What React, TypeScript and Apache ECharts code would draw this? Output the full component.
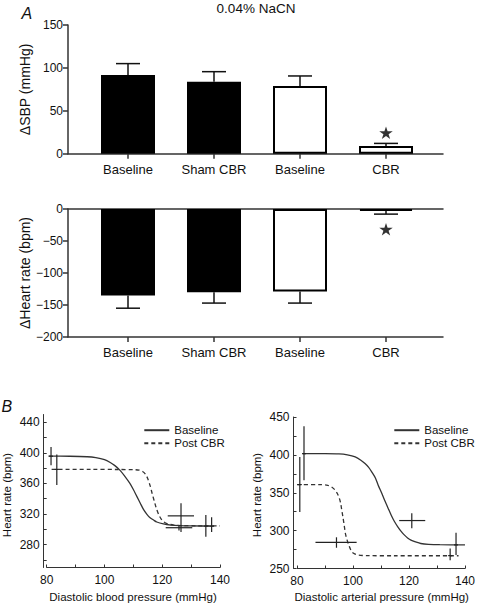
import React, { useEffect, useRef } from 'react';
import * as echarts from 'echarts';

// ---------- Panel A data ----------
const categories = ['Baseline', 'Sham CBR', 'Baseline', 'CBR'];
const groups = ['sham', 'sham', 'cbr', 'cbr'];
const sbpValues = [91.7, 83.9, 78.9, 9];
const sbpErrors = [105, 95.6, 90.6, 12];
const hrValues = [-135, -130, -129, -3];
const hrErrors = [-155, -147, -147, -8];
const sbpStars = [[3, 24.5]];
const hrStars = [[3, -31.7]];

// ---------- Panel B data ----------
const leftBaselineCurve = [
  [80.6, 395.5], [88, 395.4], [94, 394.8], [97, 393.6], [100, 391], [102, 387.3], [103.5, 383.5],
  [105.4, 377], [107, 369.5], [108.8, 360], [110, 352], [111.2, 343], [112.4, 334], [113.5, 326],
  [114.7, 319.5], [115.8, 315], [117, 312], [118.1, 309.5], [120.4, 307], [123, 305.5],
  [126, 304.7], [130, 304.3], [138, 304.2],
];
const leftPostCurve = [
  [81.7, 378.2], [95, 378.2], [105, 378.1], [110, 377.9], [112, 377.3], [113.2, 375.5],
  [114.2, 372], [115, 366], [115.8, 357], [116.5, 347], [117.3, 336], [118, 327], [118.8, 319],
  [119.6, 313.5], [120.6, 309.5], [122, 307], [124, 305.5], [127, 304.8], [132, 304.5], [140, 304.5],
];
const leftPoints = [
  // [x, y, xLow, xHigh, yLow, yHigh]
  [81.5, 395.5, 81.5, 81.5, 383.8, 407.6],
  [83.5, 378.2, 83.5, 83.5, 357.8, 397.6],
  [126.5, 317.5, 121.9, 131, 296.5, 334],
  [125.8, 302, 121.2, 130.4, 298.5, 305],
  [135.1, 304.2, 135.1, 135.1, 290.3, 318.5],
  [137.1, 304.2, 137.1, 137.1, 296.4, 315.6],
];
const rightBaselineCurve = [
  [82.1, 401.6], [90, 401.6], [95, 401.3], [98, 400], [100.8, 397.3], [102.8, 393], [104.3, 388.5],
  [105.6, 383.5], [106.7, 377.5], [108, 369.5], [109, 360], [110.2, 350], [111.3, 340],
  [112.5, 330], [113.7, 320], [114.8, 312], [116, 305], [117.2, 299], [118.4, 294], [119.5, 290.3],
  [120.7, 287.4], [122.4, 285], [124.2, 283], [127, 281.9], [131, 281.4], [140, 281.2],
];
const rightPostCurve = [
  [80, 360.8], [88, 360.7], [91, 359.8], [92.6, 357], [93.6, 353.5], [94.4, 349], [95.1, 343],
  [95.6, 336], [96, 327], [96.4, 318], [96.9, 306], [97.3, 296], [97.9, 287.5], [98.5, 281],
  [99.1, 275.5], [99.6, 272], [100.6, 269.3], [102, 267.6], [105, 267], [115, 266.8], [137.7, 266.8],
];
const rightPoints = [
  [82.5, 401.6, 82.5, 82.5, 366.5, 437.7],
  [81, 360.8, 81, 81, 324.7, 397.3],
  [121, 313.3, 116.5, 125.8, 303, 323],
  [94.1, 284.6, 86.6, 101.3, 277.4, 291.2],
  [134.7, 267, 134.7, 134.7, 260.9, 276.4],
  [136.8, 281.2, 136.8, 136.8, 267.7, 297.3],
];
const bXTicks = [80, 90, 100, 110, 120, 130, 140];
const bXLabels = [80, 100, 120, 140];
const leftYTicks = [260, 280, 300, 320, 340, 360, 380, 400, 420, 440];
const leftYLabels = [280, 320, 360, 400, 440];
const rightYTicks = [250, 275, 300, 325, 350, 375, 400, 425, 450];
const rightYLabels = [250, 300, 350, 400, 450];

const FONT = '"Liberation Sans", Arial, Helvetica, sans-serif';
const TEXT = '#111';
const AXIS = '#333';

const STAR =
  'path://M50 0 L61.2 34.5 L97.6 34.5 L68.2 55.9 L79.4 90.5 L50 69.1 L20.6 90.5 L31.8 55.9 L2.4 34.5 L38.8 34.5 Z';

function barErrorRender(params: any, api: any) {
  const x = api.value(0);
  const p0 = api.coord([x, api.value(1)]);
  const p1 = api.coord([x, api.value(2)]);
  const hw = 12;
  const style = { stroke: '#111', lineWidth: 1.5 };
  return {
    type: 'group',
    children: [
      { type: 'line', shape: { x1: p0[0], y1: p0[1], x2: p1[0], y2: p1[1] }, style },
      { type: 'line', shape: { x1: p1[0] - hw, y1: p1[1], x2: p1[0] + hw, y2: p1[1] }, style },
    ],
  };
}

function crossRender(params: any, api: any) {
  const x = api.value(0);
  const y = api.value(1);
  const h0 = api.coord([api.value(2), y]);
  const h1 = api.coord([api.value(3), y]);
  const v0 = api.coord([x, api.value(4)]);
  const v1 = api.coord([x, api.value(5)]);
  const c = api.coord([x, y]);
  const style = { stroke: '#222', lineWidth: 1.2 };
  const children: any[] = [
    { type: 'line', shape: { x1: v0[0], y1: v0[1], x2: v1[0], y2: v1[1] }, style },
  ];
  if (Math.abs(h1[0] - h0[0]) > 1) {
    children.push({ type: 'line', shape: { x1: h0[0], y1: h0[1], x2: h1[0], y2: h1[1] }, style });
  } else {
    children.push({ type: 'line', shape: { x1: c[0] - 2, y1: c[1], x2: c[0] + 2, y2: c[1] }, style });
  }
  return { type: 'group', children };
}

function minusFmt(v: number) {
  return v < 0 ? '\u2212' + Math.abs(v) : String(v);
}

export default function App() {
  const ref = useRef<HTMLDivElement>(null);
  useEffect(() => {
    if (!ref.current) return;
    const chart = echarts.init(ref.current, undefined, { renderer: 'svg' });

    const hiddenAxis = {
      axisLine: { show: false },
      axisTick: { show: false },
      axisLabel: { show: false },
      splitLine: { show: false },
    };
    const lineOnlyX = (grid: number, position: string) => ({
      type: 'value',
      gridIndex: grid,
      position,
      min: 0,
      max: 1,
      axisLine: { show: true, onZero: false, lineStyle: { color: AXIS, width: 1.5 } },
      axisTick: { show: false },
      axisLabel: { show: false },
      splitLine: { show: false },
    });
    const catX = (grid: number) => ({
      type: 'category',
      gridIndex: grid,
      data: categories,
      position: 'bottom',
      axisLine: { show: false, onZero: false },
      axisTick: { show: true, alignWithLabel: true, length: 5, lineStyle: { color: AXIS, width: 1.5 } },
      axisLabel: { color: TEXT, fontSize: 13, fontFamily: FONT, margin: 9 },
      splitLine: { show: false },
    });
    const bX = (grid: number) => ({
      type: 'value',
      gridIndex: grid,
      min: 80,
      max: 140,
      axisLine: { show: true, onZero: false, lineStyle: { color: AXIS, width: 1 } },
      axisTick: { show: true, inside: true, length: 3, customValues: bXTicks, lineStyle: { color: AXIS } },
      axisLabel: { customValues: bXLabels, color: TEXT, fontSize: 12, fontFamily: FONT, margin: 6 },
      splitLine: { show: false },
    });
    const bY = (grid: number, ticks: number[], labels: number[], offset: number) => ({
      type: 'value',
      gridIndex: grid,
      min: 250,
      max: 450,
      offset,
      axisLine: { show: true, onZero: false, lineStyle: { color: AXIS, width: 1 } },
      axisTick: { show: true, inside: true, length: 3, customValues: ticks, lineStyle: { color: AXIS } },
      axisLabel: { customValues: labels, color: TEXT, fontSize: 12, fontFamily: FONT, margin: 4 },
      splitLine: { show: false },
    });

    const barSeries = (values: number[], xi: number, yi: number) => [
      {
        type: 'bar',
        name: 'sham-group',
        xAxisIndex: xi,
        yAxisIndex: yi,
        barWidth: 54,
        barGap: '-100%',
        data: values.map((v, i) => (groups[i] === 'sham' ? v : null)),
        itemStyle: { color: '#000', borderColor: '#000', borderWidth: 2 },
      },
      {
        type: 'bar',
        name: 'cbr-group',
        xAxisIndex: xi,
        yAxisIndex: yi,
        barWidth: 54,
        barGap: '-100%',
        data: values.map((v, i) => (groups[i] === 'cbr' ? v : null)),
        itemStyle: { color: '#fff', borderColor: '#000', borderWidth: 2 },
      },
    ];

    const lineSeries = (name: string, data: number[][], xi: number, yi: number, dashed: boolean) => ({
      type: 'line',
      name,
      xAxisIndex: xi,
      yAxisIndex: yi,
      data,
      smooth: 0.3,
      symbol: 'none',
      showSymbol: false,
      lineStyle: { color: '#333', width: 1.3, type: dashed ? [4, 3] : 'solid' },
      itemStyle: { color: '#333' },
    });

    const legendBase = {
      data: ['Baseline', 'Post CBR'],
      orient: 'vertical',
      top: 424.2,
      padding: 0,
      itemWidth: 25,
      itemHeight: 10,
      itemGap: 1,
      selectedMode: false,
      itemStyle: { opacity: 0 },
      textStyle: { color: TEXT, fontSize: 11.5, fontFamily: FONT },
    };

    chart.setOption({
      animation: false,
      backgroundColor: '#fff',
      textStyle: { fontFamily: FONT },
      grid: [
        { left: 68, top: 25, width: 375, height: 128.7 },
        { left: 85, top: 25, width: 344, height: 128.7 },
        { left: 68, top: 209, width: 375, height: 128 },
        { left: 85, top: 209, width: 344, height: 128 },
        { left: 46.7, top: 414.5, width: 173.3, height: 153 },
        { left: 297, top: 417, width: 171.5, height: 151.5 },
      ],
      xAxis: [
        lineOnlyX(0, 'bottom'),
        catX(1),
        lineOnlyX(2, 'bottom'),
        lineOnlyX(2, 'top'),
        catX(3),
        bX(4),
        bX(5),
      ],
      yAxis: [
        {
          type: 'value',
          gridIndex: 0,
          min: 0,
          max: 150,
          interval: 50,
          axisLine: { show: true, lineStyle: { color: AXIS, width: 1.5 } },
          axisTick: { show: true, length: 5, lineStyle: { color: AXIS, width: 1.5 } },
          axisLabel: { color: TEXT, fontSize: 12, fontFamily: FONT, margin: 5 },
          splitLine: { show: false },
        },
        { type: 'value', gridIndex: 1, min: 0, max: 150, ...hiddenAxis },
        {
          type: 'value',
          gridIndex: 2,
          min: -200,
          max: 0,
          interval: 50,
          axisLine: { show: true, lineStyle: { color: AXIS, width: 1.5 } },
          axisTick: { show: true, length: 5, lineStyle: { color: AXIS, width: 1.5 } },
          axisLabel: { color: TEXT, fontSize: 12, fontFamily: FONT, margin: 5, formatter: minusFmt },
          splitLine: { show: false },
        },
        { type: 'value', gridIndex: 3, min: -200, max: 0, ...hiddenAxis },
        bY(4, leftYTicks, leftYLabels, 3),
        bY(5, rightYTicks, rightYLabels, 3.5),
      ],
      legend: [
        { ...legendBase, left: 143.3 },
        { ...legendBase, left: 393.3 },
      ],
      graphic: [
        { type: 'text', left: 21.5, top: 5, style: { text: 'A', fill: TEXT, fontSize: 16, fontStyle: 'italic', fontFamily: FONT } },
        { type: 'text', x: 256, y: 8.5, style: { text: '0.04% NaCN', fill: TEXT, fontSize: 13.5, fontFamily: FONT, align: 'center', verticalAlign: 'middle' } },
        { type: 'text', x: 25, y: 89.4, rotation: Math.PI / 2, style: { text: '\u0394SBP (mmHg)', fill: TEXT, fontSize: 14, fontFamily: FONT, align: 'center', verticalAlign: 'middle' } },
        { type: 'text', x: 25, y: 273, rotation: Math.PI / 2, style: { text: '\u0394Heart rate (bpm)', fill: TEXT, fontSize: 14, fontFamily: FONT, align: 'center', verticalAlign: 'middle' } },
        { type: 'text', left: 1.5, top: 398.5, style: { text: 'B', fill: TEXT, fontSize: 16, fontStyle: 'italic', fontFamily: FONT } },
        { type: 'text', x: 7, y: 495, rotation: Math.PI / 2, style: { text: 'Heart rate (bpm)', fill: TEXT, fontSize: 11.5, fontFamily: FONT, align: 'center', verticalAlign: 'middle' } },
        { type: 'text', x: 257, y: 495, rotation: Math.PI / 2, style: { text: 'Heart rate (bpm)', fill: TEXT, fontSize: 11.5, fontFamily: FONT, align: 'center', verticalAlign: 'middle' } },
        { type: 'text', x: 133, y: 596.7, style: { text: 'Diastolic blood pressure (mmHg)', fill: TEXT, fontSize: 11.5, fontFamily: FONT, align: 'center', verticalAlign: 'middle' } },
        { type: 'text', x: 381.7, y: 596.7, style: { text: 'Diastolic arterial pressure (mmHg)', fill: TEXT, fontSize: 11.5, fontFamily: FONT, align: 'center', verticalAlign: 'middle' } },
      ],
      series: [
        ...barSeries(sbpValues, 1, 1),
        {
          type: 'custom',
          name: 'sbp-err',
          xAxisIndex: 1,
          yAxisIndex: 1,
          renderItem: barErrorRender,
          data: categories.map((c, i) => [i, sbpValues[i], sbpErrors[i]]),
          z: 3,
        },
        {
          type: 'scatter',
          name: 'sbp-star',
          xAxisIndex: 1,
          yAxisIndex: 1,
          symbol: STAR,
          symbolSize: [13.5, 12.5],
          itemStyle: { color: '#000' },
          data: sbpStars,
        },
        ...barSeries(hrValues, 4, 3),
        {
          type: 'custom',
          name: 'hr-err',
          xAxisIndex: 4,
          yAxisIndex: 3,
          renderItem: barErrorRender,
          data: categories.map((c, i) => [i, hrValues[i], hrErrors[i]]),
          z: 3,
        },
        {
          type: 'scatter',
          name: 'hr-star',
          xAxisIndex: 4,
          yAxisIndex: 3,
          symbol: STAR,
          symbolSize: [13.5, 12.5],
          itemStyle: { color: '#000' },
          data: hrStars,
        },
        lineSeries('Baseline', leftBaselineCurve, 5, 4, false),
        lineSeries('Post CBR', leftPostCurve, 5, 4, true),
        {
          type: 'custom',
          name: 'left-points',
          xAxisIndex: 5,
          yAxisIndex: 4,
          renderItem: crossRender,
          data: leftPoints,
          z: 4,
        },
        lineSeries('Baseline', rightBaselineCurve, 6, 5, false),
        lineSeries('Post CBR', rightPostCurve, 6, 5, true),
        {
          type: 'custom',
          name: 'right-points',
          xAxisIndex: 6,
          yAxisIndex: 5,
          renderItem: crossRender,
          data: rightPoints,
          z: 4,
        },
      ],
    });
    return () => chart.dispose();
  }, []);
  return (
    <div
      ref={ref}
      style={{ position: 'fixed', left: 0, top: 0, width: 478, height: 603, background: '#fff' }}
    />
  );
}
